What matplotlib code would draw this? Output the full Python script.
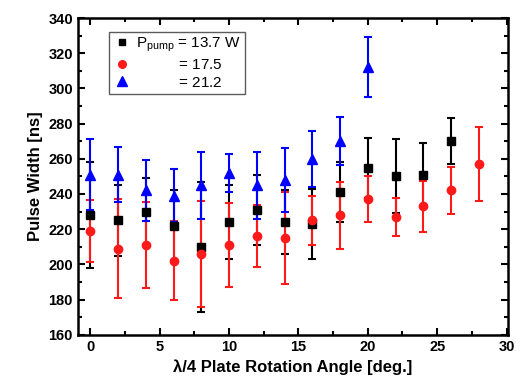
import matplotlib.pyplot as plt
from matplotlib.lines import Line2D
from matplotlib.ticker import MultipleLocator

plt.rcParams['font.family'] = ['Liberation Sans', 'DejaVu Sans']
plt.rcParams['mathtext.fontset'] = 'custom'
plt.rcParams['mathtext.rm'] = 'Liberation Sans'
plt.rcParams['mathtext.it'] = 'Liberation Sans'

# P_pump = 13.7 W
angle_137 = [0, 2, 4, 6, 8, 10, 12, 14, 16, 18, 20, 22, 24, 26]
width_137 = [228, 225, 230, 222, 210, 224, 231, 224, 223, 241, 255, 250, 251, 270]
err_137 = [30, 20, 19, 20, 37, 21, 20, 18, 20, 17, 17, 21, 18, 13]

# P_pump = 17.5 W
angle_175 = [0, 2, 4, 6, 8, 10, 12, 14, 16, 18, 20, 22, 24, 26, 28]
width_175 = [219, 209, 211, 202, 206, 211, 216, 215, 225, 228, 237, 227, 233, 242, 257]
err_175 = [17.5, 28, 24.5, 22.5, 30, 24, 17.5, 26, 14, 19, 13, 11, 14.5, 13.5, 21]

# P_pump = 21.2 W
angle_212 = [0, 2, 4, 6, 8, 10, 12, 14, 16, 18, 20]
width_212 = [251, 251, 242, 239, 245, 252, 245, 248, 260, 270, 312]
err_212 = [20, 15.5, 17.5, 15, 19, 11, 19, 18, 16, 13.5, 17]

labels = [r'$\mathrm{P_{pump}}$ = 13.7 W', r'$\hspace{3.35}$= 17.5', r'$\hspace{3.35}$= 21.2']
colors = ['black', '#ff1a1a', '#0000ff']
markers = ['s', 'o', '^']
sizes = [5.5, 6, 7]

fig = plt.figure(figsize=(5.22, 3.92), dpi=100)
ax = fig.add_axes([0.149, 0.146, 0.824, 0.808])

series = [(angle_137, width_137, err_137), (angle_175, width_175, err_175),
          (angle_212, width_212, err_212)]
handles = []
for (x, y, e), c, m, s, lab in zip(series, colors, markers, sizes, labels):
    ax.errorbar(x, y, yerr=e, fmt=m, color=c, ms=s, elinewidth=1.5,
                capsize=3, capthick=1.5)
    handles.append(Line2D([], [], ls='none', marker=m, color=c, ms=s - 0.5, label=lab))

ax.set_xlim(-0.9, 30.1)
ax.set_ylim(160, 340)
ax.xaxis.set_major_locator(MultipleLocator(5))
ax.xaxis.set_minor_locator(MultipleLocator(2.5))
ax.yaxis.set_major_locator(MultipleLocator(20))
ax.yaxis.set_minor_locator(MultipleLocator(10))
ax.tick_params(which='both', direction='in', top=True, right=True, width=1.5)
ax.tick_params(which='major', length=5, labelsize=10.5)
ax.tick_params(which='minor', length=3)
for lab in ax.get_xticklabels() + ax.get_yticklabels():
    lab.set_fontweight('bold')
for sp in ax.spines.values():
    sp.set_linewidth(1.8)

ax.set_xlabel('λ/4 Plate Rotation Angle [deg.]', fontsize=12, fontweight='bold')
ax.set_ylabel('Pulse Width [ns]', fontsize=12, fontweight='bold')

leg = ax.legend(handles=handles, loc='upper left', bbox_to_anchor=(0.055, 0.98),
                fontsize=11, frameon=True, fancybox=False, edgecolor='#333333',
                handletextpad=0.3, borderpad=0.25, labelspacing=0.25,
                handlelength=1.2)
leg.get_frame().set_linewidth(1.0)

fig.savefig('out.png', dpi=100)
